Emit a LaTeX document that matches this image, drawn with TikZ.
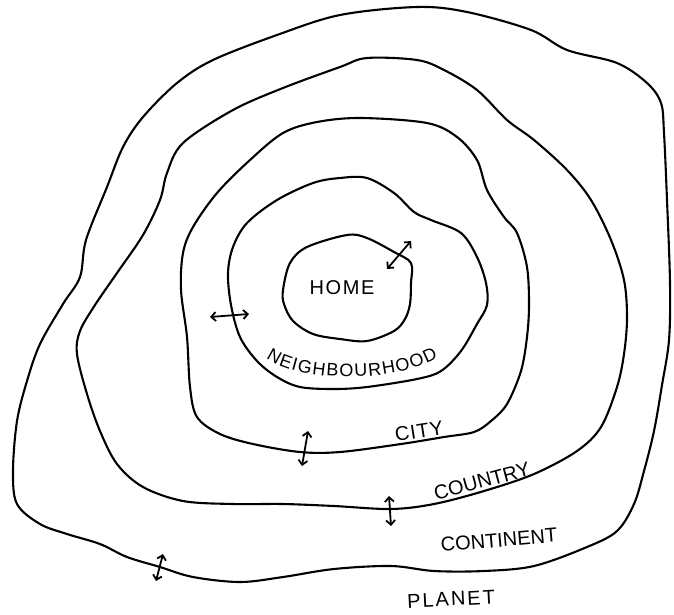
\documentclass[tikz,border=0pt]{standalone}
\usepackage{fontspec}
\setmainfont{Liberation Sans}
\usetikzlibrary{arrows.meta,decorations.text}
\begin{document}
\begin{tikzpicture}[x=1pt,y=-1pt,
  ring/.style={line width=2.1pt, line join=round},
  dbl/.style={line width=1.8pt, {Straight Barb[length=4.5pt,width=9pt,line width=1.8pt]}-{Straight Barb[length=4.5pt,width=9pt,line width=1.8pt]}},
  lbl/.style={font=\fontsize{20}{20}\selectfont, inner sep=0pt}]
\useasboundingbox (0,0) rectangle (674,614);
% continent (outer)
\draw[ring] plot[smooth cycle, tension=0.55] coordinates {
(63,304) (80,277) (86,240) (107,187) (123,147) (143,117) (177,83) (213,60) (277,35) (340,15) (417,7) (467,12) (531,30) (567,50) (617,63) (647,83) (661,103) (664,133) (667,200) (670,283) (669,340) (662,385) (654,431) (644,471) (634,504) (617,531) (587,547) (534,566) (484,571) (434,571) (391,566) (334,569) (283,577) (240,582) (193,577) (160,567) (127,557) (100,544) (67,534) (40,524) (17,504) (13,471) (17,421) (27,381) (40,344)};
% country
\draw[ring] plot[smooth cycle, tension=0.55] coordinates {
(95,305) (117,273) (143,235) (160,200) (167,173) (183,143) (233,110) (283,88) (340,67) (367,58) (417,60) (444,70) (477,90) (507,120) (534,140) (567,170) (591,200) (611,240) (624,280) (627,318) (624,354) (617,387) (601,427) (577,451) (534,474) (484,491) (434,504) (391,509) (334,506) (283,504) (233,504) (183,501) (143,487) (117,464) (100,431) (87,394) (77,354) (80,331)};
% city
\draw[ring] plot[smooth cycle, tension=0.55] coordinates {
(183,253) (193,227) (217,193) (250,160) (283,133) (317,122) (361,118) (427,123) (457,137) (477,160) (487,190) (504,217) (517,233) (527,267) (529,305) (527,337) (521,371) (507,404) (491,421) (474,432) (444,437) (401,444) (340,452) (300,452) (253,444) (220,434) (197,417) (190,387) (187,337) (181,290)};
% neighbourhood
\draw[ring] plot[smooth cycle, tension=0.55] coordinates {
(228,273) (233,247) (247,223) (277,200) (313,183) (340,178) (367,178) (394,193) (414,212) (431,220) (461,233) (477,257) (486,283) (487,305) (477,324) (461,351) (441,371) (417,379) (367,387) (334,389) (300,387) (277,377) (257,361) (240,337) (231,305)};
% home
\draw[ring] plot[smooth cycle, tension=0.55] coordinates {
(283,290) (290,263) (307,247) (347,235) (367,238) (394,252) (411,263) (411,283) (410,304) (405,319) (394,331) (367,341) (340,339) (313,334) (293,321) (284,304)};
% arrows
\coordinate (h1) at (387,269); \coordinate (h2) at (411,241);
\coordinate (n1) at (210,317); \coordinate (n2) at (249,314);
\coordinate (c1) at (308,431); \coordinate (c2) at (302,466);
\coordinate (k1) at (389,496); \coordinate (k2) at (391,526);
\coordinate (p1) at (163,554); \coordinate (p2) at (156,581);
\draw[dbl] (h1) -- (h2);
\draw[dbl] (n1) -- (n2);
\draw[dbl] (c1) -- (c2);
\draw[dbl] (k1) -- (k2);
\draw[dbl] (p1) -- (p2);
% labels
\node[lbl] (home) at (342,288) {\addfontfeature{LetterSpace=8}HOME};
\path[decorate, decoration={text along path, text align=fit to path,
  text={|\fontsize{18}{18}\selectfont|NEIGHBOURHOOD}}]
  (266,358) .. controls (296,380) and (385,386) .. (438,358);
\node[lbl, rotate=9] (city) at (419,431) {\addfontfeature{LetterSpace=5}CITY};
\node[lbl, rotate=15] (country) at (482,481) {COUNTRY};
\node[lbl, rotate=5] (continent) at (499,540) {CONTINENT};
\node[lbl, rotate=3] (planet) at (451,599) {\addfontfeature{LetterSpace=10}PLANET};
\end{tikzpicture}
\end{document}
